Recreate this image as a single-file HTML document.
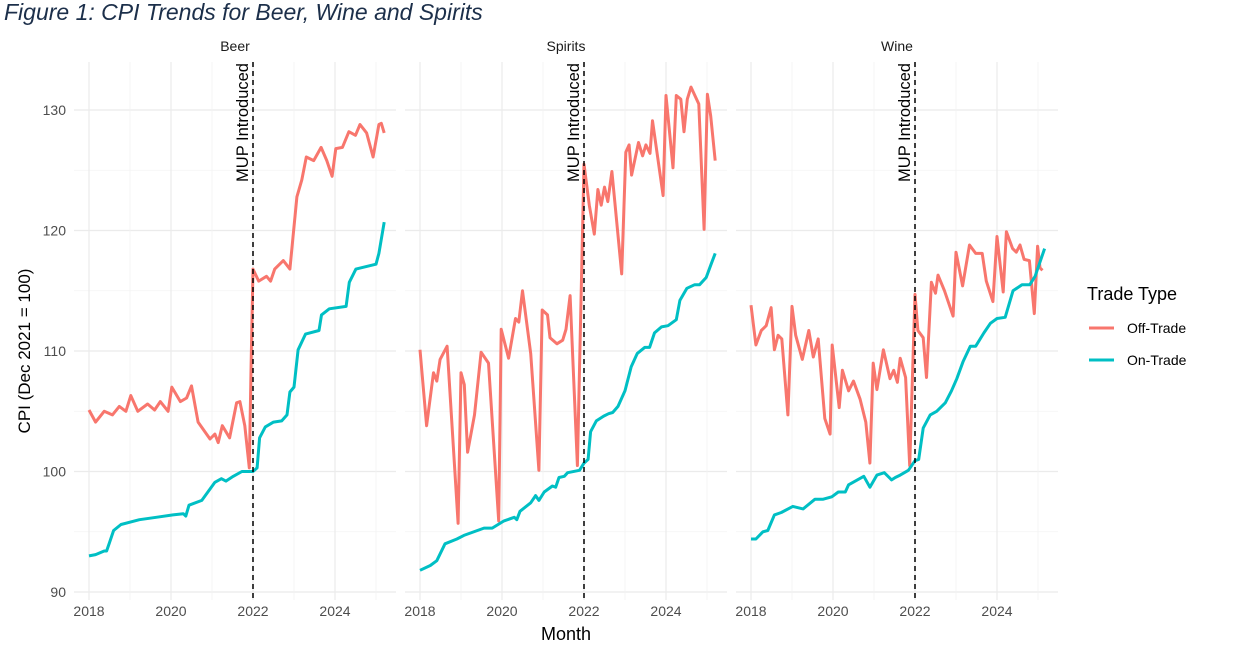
<!DOCTYPE html>
<html><head><meta charset="utf-8">
<style>
body{margin:0;background:#fff;}
svg{display:block;font-family:"Liberation Sans",sans-serif;}
</style></head>
<body>
<svg id="chart" width="1244" height="649" viewBox="0 0 1244 649">
<text x="4" y="20" font-size="23" font-style="italic" fill="#1c2f4a">Figure 1: CPI Trends for Beer, Wine and Spirits</text>
<g id="panels"></g>
<text x="566" y="640" font-size="18" text-anchor="middle" fill="#000">Month</text>
<text transform="translate(30,351) rotate(-90)" font-size="17" text-anchor="middle" fill="#000">CPI (Dec 2021 = 100)</text>
<g>
<text x="1087" y="300" font-size="18" fill="#000">Trade Type</text>
<g>
<line x1="1089" y1="328" x2="1114" y2="328" stroke="#F8766D" stroke-width="3"/>
<text x="1127" y="333" font-size="14" fill="#000">Off-Trade</text></g>
<g>
<line x1="1089" y1="360" x2="1114" y2="360" stroke="#00BFC4" stroke-width="3"/>
<text x="1127" y="365" font-size="14" fill="#000">On-Trade</text></g>
</g>
</svg>
<script>
const panelNames = ["Beer","Spirits","Wine"];
const yTicks = [90,100,110,120,130];
const xTicks = [2018,2020,2022,2024];
const mupYear = 2022;

const beerOffX = [2018,2018.16,2018.37,2018.57,2018.74,2018.9,2019.02,2019.19,2019.43,2019.6,2019.74,2019.93,2020.02,2020.23,2020.38,2020.5,2020.66,2020.95,2021.07,2021.15,2021.25,2021.43,2021.6,2021.68,2021.8,2021.91,2021.95,2022,2022.14,2022.33,2022.43,2022.53,2022.74,2022.9,2023.07,2023.19,2023.3,2023.48,2023.66,2023.8,2023.93,2024.02,2024.18,2024.34,2024.5,2024.61,2024.77,2024.93,2025.07,2025.13,2025.2];
const beerOffY = [105.1,104.1,105.0,104.7,105.4,105.0,106.3,105.0,105.6,105.1,105.8,105.0,107.0,105.8,106.1,107.1,104.1,102.7,103.1,102.4,103.8,102.8,105.7,105.8,103.8,100.3,108.4,116.8,115.8,116.2,115.8,116.8,117.5,116.8,122.8,124.2,126.1,125.8,126.9,125.8,124.5,126.8,126.9,128.2,127.9,128.8,128.1,126.1,128.8,128.9,128.1];
const beerOnX = [2018,2018.16,2018.37,2018.43,2018.5,2018.6,2018.78,2019.23,2019.64,2020.05,2020.3,2020.36,2020.44,2020.75,2021.07,2021.23,2021.34,2021.52,2021.73,2022,2022.1,2022.16,2022.3,2022.5,2022.7,2022.83,2022.9,2023,2023.1,2023.28,2023.61,2023.67,2023.86,2024.27,2024.35,2024.51,2025,2025.07,2025.2];
const beerOnY = [93.0,93.1,93.4,93.4,94.1,95.1,95.6,96.0,96.2,96.4,96.5,96.3,97.2,97.6,99.1,99.4,99.2,99.6,100.0,100.0,100.3,102.8,103.7,104.1,104.2,104.7,106.6,107.0,110.1,111.4,111.7,113.0,113.5,113.7,115.7,116.8,117.2,118.1,120.7];

const spiritsOffX = [2018,2018.16,2018.33,2018.41,2018.49,2018.66,2018.93,2019,2019.08,2019.16,2019.33,2019.49,2019.67,2019.92,2019.98,2020.16,2020.33,2020.41,2020.5,2020.7,2020.9,2020.98,2021.11,2021.17,2021.34,2021.48,2021.56,2021.66,2021.84,2022,2022.13,2022.25,2022.34,2022.42,2022.5,2022.58,2022.68,2022.92,2023.02,2023.1,2023.16,2023.33,2023.43,2023.51,2023.61,2023.67,2023.93,2024,2024.17,2024.25,2024.36,2024.44,2024.52,2024.61,2024.8,2024.93,2025.01,2025.09,2025.2];
const spiritsOffY = [110.1,103.8,108.2,107.5,109.3,110.4,95.7,108.2,107.2,101.6,104.7,109.9,109.0,95.9,111.8,109.4,112.7,112.4,115.0,109.8,100.1,113.4,113.0,111.1,110.6,110.9,111.8,114.6,100.5,125.5,122.1,119.7,123.4,122.1,123.6,122.4,124.9,116.4,126.5,127.1,124.6,127.3,126.2,127.1,126.4,129.1,122.9,131.2,125.2,131.2,130.9,128.2,130.9,131.9,130.5,120.1,131.3,129.5,125.8];
const spiritsOnX = [2018,2018.25,2018.41,2018.61,2018.9,2019.07,2019.56,2019.76,2020.05,2020.3,2020.36,2020.44,2020.7,2020.82,2020.9,2021.03,2021.23,2021.31,2021.39,2021.52,2021.6,2021.89,2022,2022.1,2022.16,2022.3,2022.48,2022.6,2022.7,2022.83,2023,2023.15,2023.3,2023.48,2023.6,2023.72,2023.89,2024.05,2024.25,2024.34,2024.51,2024.7,2024.82,2024.98,2025.1,2025.2];
const spiritsOnY = [91.8,92.2,92.6,94.0,94.4,94.7,95.3,95.3,95.9,96.2,96.0,96.7,97.4,98.0,97.6,98.3,98.8,98.7,99.5,99.6,99.9,100.1,100.7,101.0,103.3,104.2,104.6,104.8,104.9,105.4,106.7,108.7,109.8,110.3,110.3,111.5,112.0,112.1,112.6,114.2,115.2,115.5,115.5,116.1,117.2,118.1];

const wineOffX = [2018,2018.12,2018.25,2018.37,2018.49,2018.57,2018.66,2018.75,2018.9,2019,2019.09,2019.25,2019.41,2019.52,2019.64,2019.8,2019.93,2019.98,2020.15,2020.23,2020.38,2020.5,2020.66,2020.8,2020.9,2020.98,2021.07,2021.23,2021.39,2021.48,2021.57,2021.64,2021.77,2021.87,2022,2022.07,2022.2,2022.28,2022.4,2022.5,2022.56,2022.72,2022.93,2023,2023.16,2023.33,2023.48,2023.64,2023.74,2023.9,2024,2024.15,2024.23,2024.38,2024.47,2024.56,2024.66,2024.79,2024.91,2024.99,2025.05,2025.11];
const wineOffY = [113.8,110.5,111.7,112.1,113.6,110.1,111.3,111.0,104.7,113.7,111.3,109.3,111.7,109.5,111.0,104.4,103.1,110.5,105.3,108.4,106.7,107.5,106.0,104.1,100.7,109.0,106.8,110.1,107.7,108.4,107.4,109.4,107.8,100.5,114.7,111.7,111.1,107.8,115.7,114.8,116.3,115.0,112.9,118.2,115.4,118.8,118.1,118.1,115.8,114.1,119.5,114.9,119.9,118.5,118.2,118.8,117.6,117.5,113.1,118.7,116.9,116.7];
const wineOnX = [2018,2018.12,2018.29,2018.41,2018.57,2018.74,2019.02,2019.27,2019.56,2019.76,2019.97,2020.13,2020.3,2020.38,2020.75,2020.9,2021.07,2021.25,2021.43,2021.52,2021.64,2021.84,2022,2022.09,2022.2,2022.37,2022.53,2022.74,2022.89,2023.02,2023.17,2023.35,2023.48,2023.68,2023.84,2024,2024.2,2024.39,2024.61,2024.8,2024.93,2025.16];
const wineOnY = [94.4,94.4,95.0,95.1,96.4,96.6,97.1,96.9,97.7,97.7,97.9,98.3,98.3,98.9,99.6,98.7,99.7,99.9,99.3,99.5,99.7,100.1,100.9,101.0,103.6,104.7,105.0,105.7,106.7,107.7,109.1,110.4,110.4,111.5,112.3,112.7,112.8,115.0,115.5,115.5,116.2,118.5];

const seriesSets = [
  [[beerOffX,beerOffY],[beerOnX,beerOnY]],
  [[spiritsOffX,spiritsOffY],[spiritsOnX,spiritsOnY]],
  [[wineOffX,wineOffY],[wineOnX,wineOnY]]
];
const colors = ["#F8766D","#00BFC4"];
const tradeNames = ["off-trade","on-trade"];

const NS = "http://www.w3.org/2000/svg";
const root = document.getElementById("panels");
const panelLeft = [74,405,736];
const panelW = 322, panelTop = 62, panelBottom = 600;
const yScale = v => 110 + (130 - v) * (592 - 110) / 40;
function mk(tag, attrs, parent){
  const e = document.createElementNS(NS, tag);
  for (const k in attrs) e.setAttribute(k, attrs[k]);
  parent.appendChild(e);
  return e;
}
panelNames.forEach((name, p) => {
  const L = panelLeft[p];
  const xScale = yr => L + 15 + (yr - 2018) * 41;
  const g = mk("g", {}, root);
  
  
  for (let v = 90; v <= 130; v += 5) {
    const ln = mk("line", {x1:L, x2:L+panelW, y1:yScale(v), y2:yScale(v), stroke: v%10===0 ? "#ebebeb" : "#f3f3f3", "stroke-width": v%10===0 ? 1.2 : 0.8}, g);
    
    
  }
  for (let yr = 2018; yr <= 2025; yr++) {
    const ln = mk("line", {x1:xScale(yr), x2:xScale(yr), y1:panelTop, y2:panelBottom, stroke: yr%2===0 ? "#ebebeb" : "#f3f3f3", "stroke-width": yr%2===0 ? 1.2 : 0.8}, g);
    
    
  }
  xTicks.forEach(t => {
    const tx = mk("text", {x:xScale(t), y:616, "font-size":14, "text-anchor":"middle", fill:"#4d4d4d"}, g);
    tx.textContent = t;
    
    
  });
  const st = mk("text", {x:L+panelW/2, y:51, "font-size":14, "text-anchor":"middle", fill:"#1a1a1a"}, g);
  st.textContent = name;
  
  
  seriesSets[p].forEach((s, i) => {
    const pts = s[0].map((x, k) => xScale(x).toFixed(1) + "," + yScale(s[1][k]).toFixed(1)).join(" ");
    const pl = mk("polyline", {points:pts, fill:"none", stroke:colors[i], "stroke-width":3, "stroke-linejoin":"round"}, g);
    
    
  });
  const ml = mk("line", {x1:xScale(mupYear), x2:xScale(mupYear), y1:panelTop, y2:panelBottom, stroke:"#000", "stroke-width":1.5, "stroke-dasharray":"5,4"}, g);
  
  
  const mt = mk("text", {transform:"translate(" + (xScale(mupYear)-5) + ",63) rotate(-90)", "font-size":16.5, "text-anchor":"end", fill:"#000"}, g);
  mt.textContent = "MUP Introduced";
  
  
});
const yAxis = mk("g", {}, root);


yTicks.forEach(v => {
  const t = mk("text", {x:66, y:yScale(v)+5, "font-size":14, "text-anchor":"end", fill:"#4d4d4d"}, yAxis);
  t.textContent = v;
  
  
});
</script>
</body></html>
